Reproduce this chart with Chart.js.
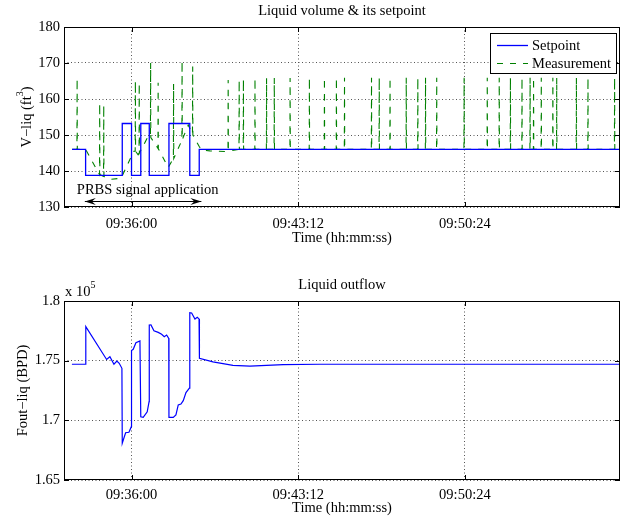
<!DOCTYPE html>
<html>
<head>
<meta charset="utf-8">
<title>Liquid volume and outflow</title>
<script src="https://cdn.jsdelivr.net/npm/chart.js@4.4.1/dist/chart.umd.min.js"></script>
<style>
  body { margin: 0; background: #fff; }
  .panel { position: absolute; left: 0; width: 628px; height: 260px; }
</style>
</head>
<body>
<div class="panel" style="top:0"><canvas id="volumeChart" width="628" height="260"></canvas></div>
<div class="panel" style="top:260px"><canvas id="outflowChart" width="628" height="260"></canvas></div>
<script>
// time axis is in seconds after 09:30:00
const timeMin = 185;
const timeMax = 1626;
const timeTicks = [360, 792, 1224];

// liquid volume setpoint (ft3), corners of the PRBS steps
const setpointTime  = [206, 241, 241, 336, 336, 360, 360, 384, 384, 406, 406, 457, 457, 511, 511, 535.5, 535.5, 1626];
const setpointValue = [146, 146, 138.8, 138.8, 153.2, 153.2, 138.8, 138.8, 153.2, 153.2, 138.8, 138.8, 153.2, 153.2, 138.8, 138.8, 146, 146];

// measured liquid volume during the PRBS test
const measTime  = [206, 218.5, 219, 219.5, 241, 277, 277.5, 278, 287.5, 288, 288.5, 306, 333, 366, 369.5, 370, 370.5, 377, 379.5, 380, 380.5,
                   402.5, 409, 409.5, 410, 428.5, 429, 429.5, 455, 468.5, 469, 469.5, 490.5, 491, 491.5, 507, 518, 518.5, 519,
                   535.5, 542, 563, 606, 610, 610.5, 611, 641, 1626];
const measValue = [146, 146, 165.7, 146, 146, 139, 158.8, 139, 138.5, 158.3, 138.5, 137.7, 138, 145.5, 145.5, 165, 145.5, 144.5, 145, 164.4, 145,
                   149.5, 149.5, 170, 149.3, 146.3, 164.5, 146.2, 141, 143.5, 164.2, 143.5, 148.5, 170.6, 148.7, 152.8, 150.3, 169, 150,
                   146.8, 145.8, 145.6, 145.4, 145.4, 165.3, 145.5, 146, 146];

// single-sample spikes on the measurement after the test
const spikeBase = 146;
const spikeTime = [639, 650, 680, 710, 730, 771, 821, 860, 891, 912, 982, 1002, 1030, 1072, 1102, 1122, 1151, 1222,
                   1282, 1313, 1342, 1372, 1393, 1402, 1422, 1452, 1462, 1513, 1543, 1612];
const spikePeak = [165.3, 165.5, 165.8, 165.8, 165.8, 165.8, 165.9, 165.9, 165.9, 165.9, 165.9, 165.9, 165.9, 165.9, 165.9, 165.9, 165.9, 165.9,
                   165.9, 165.9, 165.9, 165.9, 165.9, 165.9, 165.9, 165.9, 165.9, 165.9, 165.9, 165.9];

// liquid outflow (BPD)
const flowTime  = [205.5, 241, 241.5, 295.4, 304, 314.4, 322.1, 328.1, 335.1, 336, 344.7, 353.3, 359.5, 360, 364.4, 371.4, 381.8, 384,
                   390.3, 400.7, 405.5, 406, 410.4, 418.1, 429.2, 438, 444.8, 451, 456.5, 457, 468.1, 475.1, 481.1, 488.1, 494.1,
                   501.1, 510, 511, 515.8, 524.4, 530.4, 535, 536, 571, 623, 667, 753, 848.5, 1626];
const flowValue = [174700, 174700, 177850, 175100, 175330, 174700, 174970, 174780, 174360, 168080, 168960, 169000, 169470, 175840,
                   175950, 176500, 176650, 170300, 170250, 170720, 171560, 177990, 178000, 177510, 177370, 177210, 177000, 177150,
                   176870, 170250, 170250, 170450, 171290, 171370, 171650, 172320, 172700, 179020, 179000, 178490, 178630, 178500,
                   175200, 174900, 174610, 174550, 174660, 174700, 174700];

const prbsArrow = [239, 541];
const prbsLabel = 'PRBS signal application';

const BLUE = 'rgb(0, 0, 255)';
const GREEN = 'rgb(0, 128, 0)';
const MEAS_DASH = [6, 7];

const FONT_FAMILY = '"Liberation Serif", "Times New Roman", serif';
const MAIN_FONT = '14.5px ' + FONT_FAMILY;
const SUP_FONT = '10px ' + FONT_FAMILY;

function zip(xs, ys) {
  return xs.map((x, i) => ({ x: x, y: ys[i] }));
}

function timeLabel(sec) {
  const s = Math.round(sec) + 9 * 3600 + 30 * 60;
  const p = n => String(n).padStart(2, '0');
  return p(Math.floor(s / 3600)) + ':' + p(Math.floor(s / 60) % 60) + ':' + p(s % 60);
}

function drawRich(ctx, parts, x, y, centered) {
  const widths = parts.map(p => {
    ctx.font = p.sup ? SUP_FONT : MAIN_FONT;
    return ctx.measureText(p.text).width;
  });
  const total = widths.reduce((a, b) => a + b, 0);
  let cx = centered ? x - total / 2 : x;
  ctx.textAlign = 'left';
  ctx.textBaseline = 'alphabetic';
  parts.forEach((p, i) => {
    ctx.font = p.sup ? SUP_FONT : MAIN_FONT;
    ctx.fillText(p.text, cx, p.sup ? y - 8 : y);
    cx += widths[i];
  });
}

function drawLegend(ctx, items, area) {
  const w = 126, h = 40;
  const x0 = area.right - 4 - w, y0 = area.top + 6;
  ctx.fillStyle = '#fff';
  ctx.fillRect(x0, y0, w, h);
  ctx.strokeStyle = '#000';
  ctx.lineWidth = 1;
  ctx.setLineDash([]);
  ctx.strokeRect(x0 + 0.5, y0 + 0.5, w, h);
  items.forEach((item, i) => {
    const ly = Math.round(y0 + 12 + i * 17.7) + 0.5;
    ctx.beginPath();
    ctx.strokeStyle = item.color;
    ctx.lineWidth = item.width;
    ctx.setLineDash(item.dash);
    ctx.moveTo(x0 + 7, ly);
    ctx.lineTo(x0 + 38, ly);
    ctx.stroke();
    ctx.setLineDash([]);
    ctx.fillStyle = '#000';
    ctx.font = MAIN_FONT;
    ctx.textAlign = 'left';
    ctx.textBaseline = 'middle';
    ctx.fillText(item.label, x0 + 42, ly + 1);
  });
  ctx.lineWidth = 1;
}

function drawPrbs(ctx, xScale, cfg) {
  const xa = xScale.getPixelForValue(prbsArrow[0]);
  const xb = xScale.getPixelForValue(prbsArrow[1]);
  const ya = cfg.arrowY;
  ctx.strokeStyle = '#000';
  ctx.fillStyle = '#000';
  ctx.beginPath();
  ctx.moveTo(xa, ya);
  ctx.lineTo(xb, ya);
  ctx.stroke();
  [[xa, 1], [xb, -1]].forEach(([tip, dir]) => {
    ctx.beginPath();
    ctx.moveTo(tip, ya);
    ctx.lineTo(tip + dir * 11, ya - 3.5);
    ctx.lineTo(tip + dir * 7, ya);
    ctx.lineTo(tip + dir * 11, ya + 3.5);
    ctx.closePath();
    ctx.fill();
  });
  ctx.font = MAIN_FONT;
  ctx.textAlign = 'left';
  ctx.textBaseline = 'alphabetic';
  ctx.fillText(prbsLabel, xa - 8, cfg.textY);
}

function makeDecorations(cfg) {
  return {
    id: 'decorations',
    afterDraw(chart) {
      const { ctx, chartArea: area, scales } = chart;
      const midX = (area.left + area.right) / 2;
      ctx.save();
      ctx.beginPath();
      ctx.strokeStyle = '#000';
      ctx.fillStyle = '#000';
      ctx.lineWidth = 1;
      ctx.setLineDash([]);

      // matlab style ticks pointing inwards on all sides
      scales.y.ticks.forEach(t => {
        const py = Math.round(scales.y.getPixelForValue(t.value)) + 0.5;
        ctx.moveTo(area.left, py); ctx.lineTo(area.left + 5, py);
        ctx.moveTo(area.right, py); ctx.lineTo(area.right - 5, py);
      });
      scales.x.ticks.forEach(t => {
        const px = Math.round(scales.x.getPixelForValue(t.value)) + 0.5;
        ctx.moveTo(px, area.top); ctx.lineTo(px, area.top + 5);
        ctx.moveTo(px, area.bottom); ctx.lineTo(px, area.bottom - 5);
      });
      ctx.stroke();
      ctx.beginPath();
      ctx.strokeRect(area.left + 0.5, area.top + 0.5, area.width - 1, area.height - 1);

      ctx.font = MAIN_FONT;
      ctx.textAlign = 'center';
      ctx.textBaseline = 'alphabetic';
      ctx.fillText(cfg.title, midX, cfg.titleY);
      ctx.fillText(cfg.xLabel, midX, cfg.xLabelY);

      ctx.save();
      ctx.translate(cfg.yLabelX, (area.top + area.bottom) / 2);
      ctx.rotate(-Math.PI / 2);
      drawRich(ctx, cfg.yLabel, 0, 0, true);
      ctx.restore();

      if (cfg.exponent) drawRich(ctx, cfg.exponent, area.left + 1, cfg.exponentY, false);
      if (cfg.legend) drawLegend(ctx, cfg.legend, area);
      if (cfg.prbs) drawPrbs(ctx, scales.x, cfg.prbs);
      ctx.restore();
    }
  };
}

function makeOptions(cfg) {
  const tickFont = { family: FONT_FAMILY, size: 14.5 };
  return {
    responsive: false,
    animation: false,
    events: [],
    layout: { padding: { top: cfg.padTop, right: 8, left: 0, bottom: 0 } },
    plugins: { legend: { display: false }, tooltip: { enabled: false }, colors: { enabled: false } },
    scales: {
      x: {
        type: 'linear',
        min: timeMin,
        max: timeMax,
        afterBuildTicks: axis => { axis.ticks = timeTicks.map(v => ({ value: v })); },
        afterFit: axis => { axis.height = cfg.xHeight; },
        grid: { color: '#555', drawTicks: false },
        border: { display: false, dash: [1, 2.5] },
        ticks: { padding: cfg.xPad, color: '#000', font: tickFont, maxRotation: 0, autoSkip: false, callback: v => timeLabel(v) }
      },
      y: {
        min: cfg.yMin,
        max: cfg.yMax,
        afterFit: axis => { axis.width = 64; },
        grid: { color: '#555', drawTicks: false },
        border: { display: false, dash: [1, 2.5] },
        ticks: { stepSize: cfg.yStep, padding: 4, color: '#000', font: tickFont, callback: cfg.yFormat }
      }
    }
  };
}

const measurementPoints = zip(measTime, measValue);
spikeTime.forEach((t, i) => {
  measurementPoints.push({ x: t - 0.5, y: spikeBase }, { x: t, y: spikePeak[i] }, { x: t + 0.5, y: spikeBase });
});
measurementPoints.sort((a, b) => a.x - b.x);

new Chart(document.getElementById('volumeChart'), {
  type: 'line',
  data: {
    datasets: [
      { label: 'Setpoint', data: zip(setpointTime, setpointValue), borderColor: BLUE, backgroundColor: BLUE,
        borderWidth: 1.3, pointRadius: 0, tension: 0, fill: false },
      { label: 'Measurement', data: measurementPoints, borderColor: GREEN, backgroundColor: GREEN,
        borderWidth: 1.1, borderDash: MEAS_DASH, pointRadius: 0, tension: 0, fill: false }
    ]
  },
  options: makeOptions({ padTop: 27, xHeight: 53, xPad: 8, yMin: 130, yMax: 180, yStep: 10, yFormat: v => String(v) }),
  plugins: [makeDecorations({
    title: 'Liquid volume & its setpoint',
    titleY: 15,
    xLabel: 'Time (hh:mm:ss)',
    xLabelY: 242,
    yLabel: [{ text: 'V\u2212liq (ft' }, { text: '3', sup: true }, { text: ')' }],
    yLabelX: 31,
    legend: [
      { label: 'Setpoint', color: BLUE, dash: [], width: 1.3 },
      { label: 'Measurement', color: GREEN, dash: MEAS_DASH, width: 1.1 }
    ],
    prbs: { arrowY: 201.5, textY: 194 }
  })]
});

new Chart(document.getElementById('outflowChart'), {
  type: 'line',
  data: {
    datasets: [
      { label: 'Outflow', data: zip(flowTime, flowValue), borderColor: BLUE, backgroundColor: BLUE,
        borderWidth: 1.2, pointRadius: 0, tension: 0, fill: false }
    ]
  },
  options: makeOptions({ padTop: 41, xHeight: 40, xPad: 6, yMin: 165000, yMax: 180000, yStep: 5000, yFormat: v => String(v / 1e5) }),
  plugins: [makeDecorations({
    title: 'Liquid outflow',
    titleY: 28.5,
    xLabel: 'Time (hh:mm:ss)',
    xLabelY: 252,
    yLabel: [{ text: 'Fout\u2212liq (BPD)' }],
    yLabelX: 27,
    exponent: [{ text: 'x 10' }, { text: '5', sup: true }],
    exponentY: 36
  })]
});
</script>
</body>
</html>
